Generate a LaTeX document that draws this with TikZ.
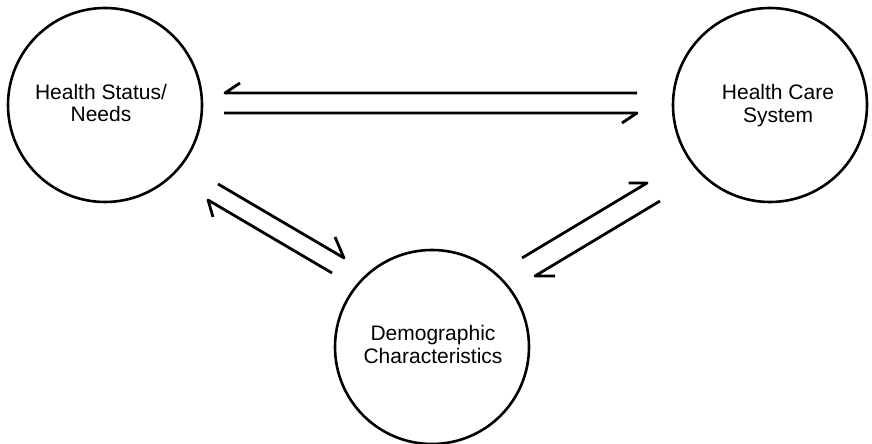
\documentclass[tikz,border=0pt]{standalone}
\usepackage{fontspec}
\setmainfont{Liberation Sans}
\begin{document}
\begin{tikzpicture}[x=1pt,y=1pt,
  bubble/.style={circle,draw,line width=2.6pt,minimum size=194pt,inner sep=0pt},
  lbl/.style={align=center,font=\fontsize{21}{22.5}\selectfont,inner sep=0pt},
  flow/.style={line width=2.8pt,line join=round,line cap=butt}]
\useasboundingbox (0,0) rectangle (872,444);
\node[bubble] (hs) at (105,339) {};
\node[bubble] (hc) at (770,339) {};
\node[bubble] (dc) at (432,97) {};
\node[lbl] (hst) at (101,341.2) {Health Status/\\Needs};
\node[lbl] (hct) at (778,338.5) {Health Care\\System};
\node[lbl] (dct) at (433,99.7) {Demographic\\Characteristics};
% horizontal pair
\coordinate (h1s) at (637,351); \coordinate (h1e) at (225,351);
\coordinate (h2s) at (224,331); \coordinate (h2e) at (637,331);
% left pair
\coordinate (l1s) at (218,260); \coordinate (l1e) at (344,186);
\coordinate (l2s) at (332,171); \coordinate (l2e) at (208,244);
% right pair
\coordinate (r1s) at (522,186); \coordinate (r1e) at (647,261);
\coordinate (r2s) at (660,243); \coordinate (r2e) at (535,168);
\draw[flow] (h1s) -- (h1e) -- ++(15,10);
\draw[flow] (h2s) -- (h2e) -- ++(-15,-10);
\draw[flow] (l1s) -- (l1e) -- ++(-9,21);
\draw[flow] (l2s) -- (l2e) -- ++(5,-17);
\draw[flow] (r1s) -- (r1e) -- ++(-18.5,0);
\draw[flow] (r2s) -- (r2e) -- ++(20,0);
\end{tikzpicture}
\end{document}
